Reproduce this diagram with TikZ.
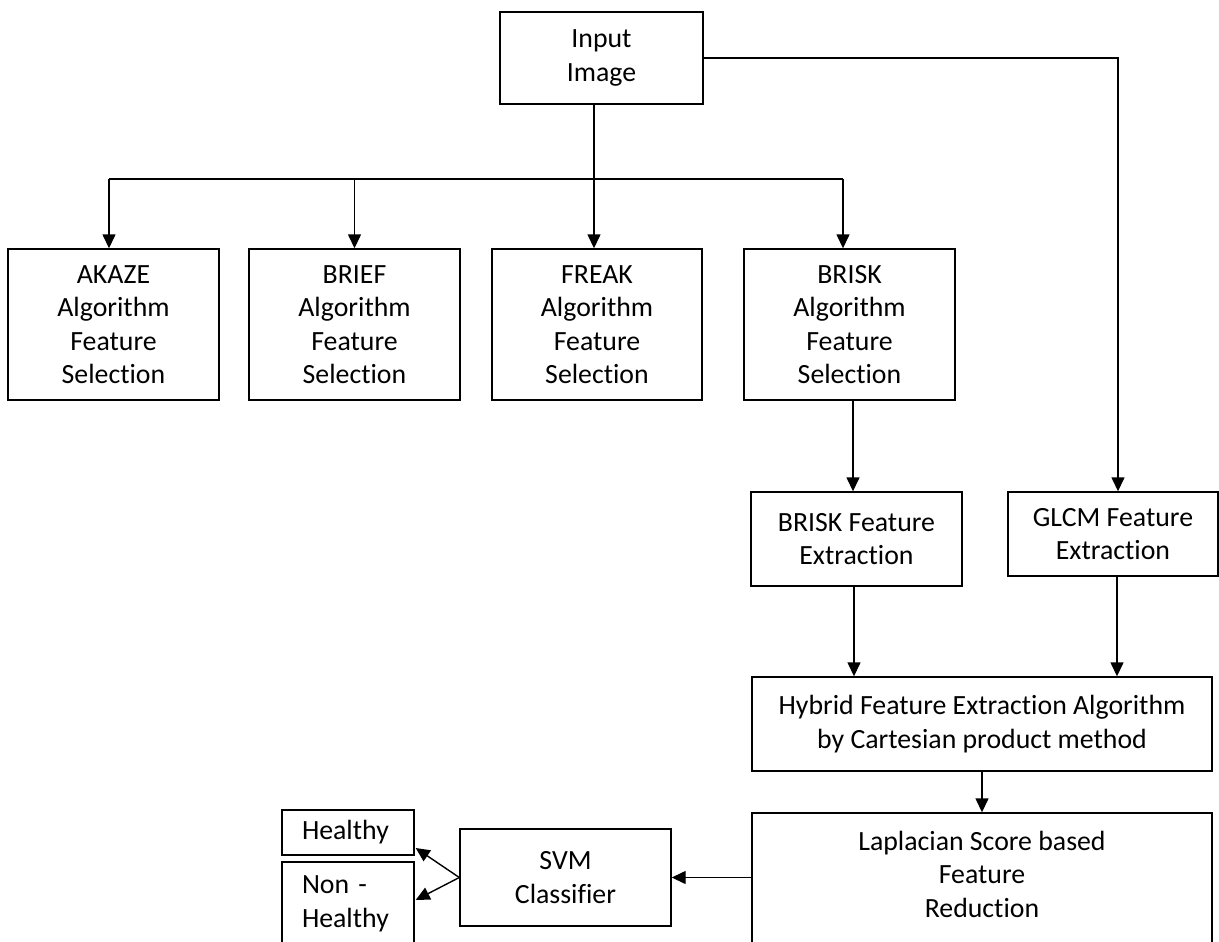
\documentclass[tikz,border=0pt]{standalone}
\usepackage{fontspec}
\setmainfont{Carlito}[Ligatures=NoCommon]
\usetikzlibrary{arrows.meta,positioning}
\newcommand{\dgfont}{\fontsize{27.8}{33.5}\selectfont}
\tikzset{
  box/.style={draw, line width=1.4pt, inner sep=0pt, align=center, font=\dgfont},
  txt/.style={inner sep=0pt, align=center, font=\dgfont},
  arr/.style={line width=1.4pt, -{Triangle[length=14pt,width=13pt]}},
  ln/.style={line width=1.4pt}
}
\begin{document}
\begin{tikzpicture}[x=1pt,y=-1pt]
\useasboundingbox (0,0) rectangle (1219,942);
\clip (0,0) rectangle (1219,942);
% nodes
\node[box, minimum width=203pt, minimum height=92pt] (input) at (601.5,58) {Input\\Image};
\node[box, minimum width=211pt, minimum height=151pt] (akaze) at (113.5,324.5) {AKAZE\\Algorithm\\Feature\\Selection};
\node[box, minimum width=211pt, minimum height=151pt] (brief) at (354.5,324.5) {BRIEF\\Algorithm\\Feature\\Selection};
\node[box, minimum width=210pt, minimum height=151pt] (freak) at (597,324.5) {FREAK\\Algorithm\\Feature\\Selection};
\node[box, minimum width=211pt, minimum height=151pt] (brisk) at (849.5,324.5) {BRISK\\Algorithm\\Feature\\Selection};
\node[box, minimum width=211pt, minimum height=94pt] (briskfe) at (856.5,539) {BRISK Feature\\Extraction};
\node[box, minimum width=210pt, minimum height=84pt] (glcm) at (1113,534) {GLCM Feature\\Extraction};
\node[box, minimum width=460pt, minimum height=94pt] (hybrid) at (982,724) {Hybrid Feature Extraction Algorithm\\by Cartesian product method};
\node[box, minimum width=460pt, minimum height=160pt] (lap) at (982,893) {};
\node[txt] (laptxt) at (982,874) {Laplacian Score based\\Feature\\Reduction};
\node[box, minimum width=211pt, minimum height=97pt] (svm) at (565.5,877.5) {SVM\\Classifier};
\node[box, minimum width=132pt, minimum height=45pt, inner xsep=20pt, text width=92pt, align=left] (healthy) at (348,832.5) {Healthy};
\node[box, minimum width=132pt, minimum height=84pt, inner xsep=20pt, text width=92pt, align=left] (nonhealthy) at (348,904) {Non -\\Healthy};
% coordinates
\coordinate (bus) at (0,179);
\coordinate (ta) at ([xshift=-4.5pt]akaze.north);
\coordinate (tb) at (brief.north);
\coordinate (tc) at ([xshift=-3pt]freak.north);
\coordinate (td) at ([xshift=-6.5pt]brisk.north);
\coordinate (gtop) at ([xshift=5pt]glcm.north);
\coordinate (gbot) at ([xshift=4pt]glcm.south);
\coordinate (bs) at ([xshift=3.5pt]brisk.south);
\coordinate (bfn) at ([xshift=-3.5pt]briskfe.north);
\coordinate (bfs) at ([xshift=-2.5pt]briskfe.south);
\coordinate (h1) at ([xshift=1pt,yshift=-15.5pt]healthy.east);
\coordinate (h2) at ([xshift=1pt,yshift=4pt]nonhealthy.east);
% connectors
\draw[arr] (input.south -| tc) -- (tc);
\draw[ln] (ta |- bus) -- (td |- bus);
\draw[arr] (ta |- bus) -- (ta);
\draw[arr] (tb |- bus) -- (tb);
\draw[arr] (td |- bus) -- (td);
\draw[arr] (input.east) -| (gtop);
\draw[arr] (bs) -- (bfn);
\draw[arr] (bfs) -- (bfs |- hybrid.north);
\draw[arr] (gbot) -- (gbot |- hybrid.north);
\draw[arr] (hybrid.south) -- (lap.north);
\draw[arr] (svm.east -| lap.west) -- (svm.east);
\draw[arr] (svm.west) -- (h1);
\draw[arr] (svm.west) -- (h2);
\end{tikzpicture}
\end{document}
